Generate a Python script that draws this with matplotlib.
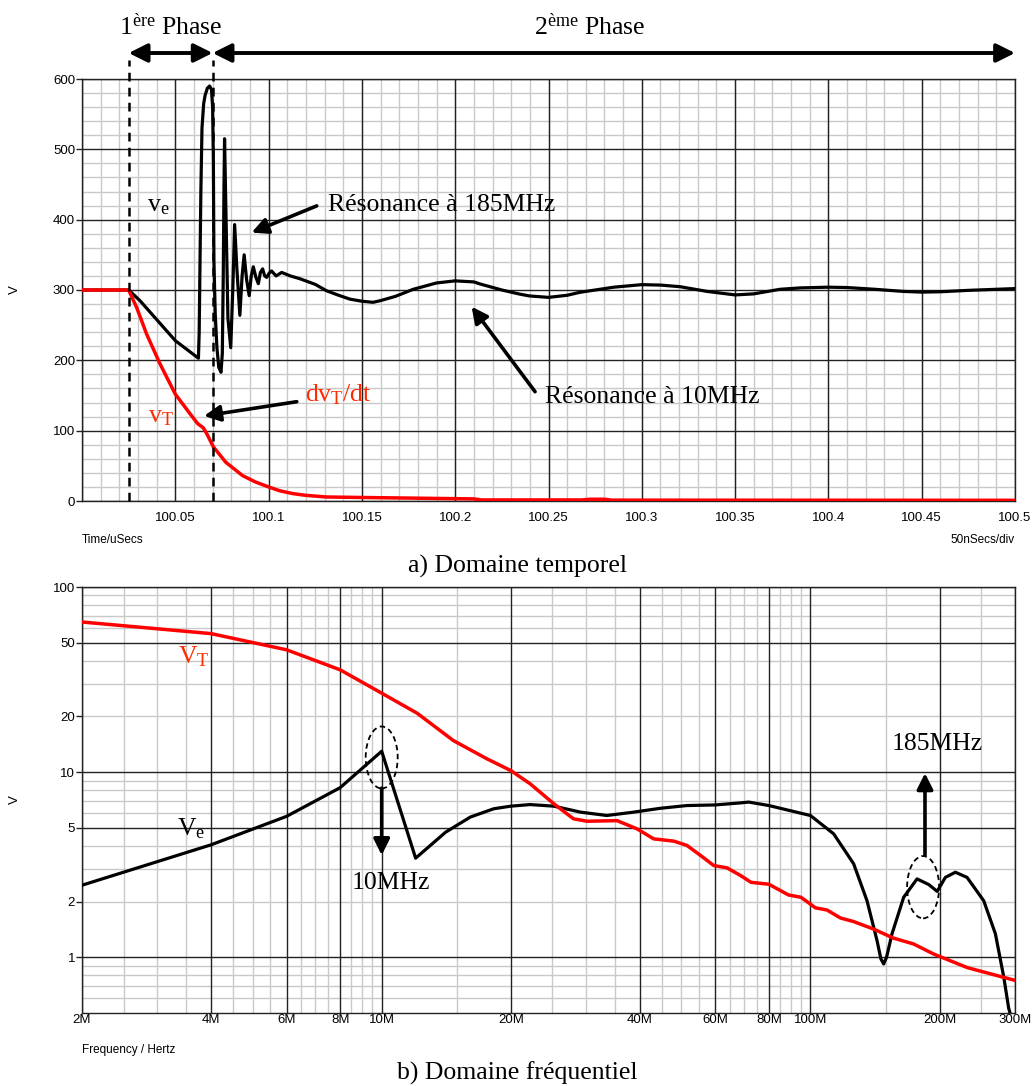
import matplotlib
matplotlib.use('Agg')
import matplotlib.pyplot as plt
import matplotlib.transforms as mtransforms
from matplotlib.patches import Ellipse
from matplotlib.ticker import FixedLocator, NullFormatter
import numpy as np

plt.rcParams['mathtext.fontset'] = 'custom'
plt.rcParams['mathtext.rm'] = 'Liberation Serif'
plt.rcParams['mathtext.it'] = 'Liberation Serif:italic'

SERIF = 'Liberation Serif'
SANS = 'Liberation Sans'
RED_LINE = '#ff0000'
RED_TEXT = '#ff2a00'

# ---- a) time domain (t in uSecs, volts) ----
t_vt = [100.0, 100.025, 100.0293, 100.0346, 100.0418, 100.05, 100.0579, 100.062,
        100.065, 100.067, 100.0704, 100.0771, 100.0861, 100.093, 100.1, 100.106,
        100.113, 100.12, 100.131, 100.15, 100.18, 100.21, 100.214, 100.268,
        100.272, 100.28, 100.284, 100.5]
v_vt = [300, 300, 275, 237.5, 195, 152, 124, 110,
        104, 95, 77, 55, 36, 27, 20, 14.5,
        10.5, 8, 5.7, 5, 4, 3, 1.5, 1.5,
        2.5, 2.5, 1.2, 1]

t_ve = [100.0, 100.025, 100.031, 100.042, 100.05, 100.0624, 100.0628, 100.0632,
        100.0637, 100.0643, 100.0652, 100.066, 100.0672, 100.0684, 100.0694,
        100.07, 100.0704, 100.0707, 100.0714, 100.0723, 100.0733, 100.0745,
        100.0752, 100.0757, 100.0761, 100.0764, 100.077, 100.0782, 100.0797,
        100.0808, 100.0818, 100.083, 100.0846, 100.0858, 100.0869, 100.0882,
        100.0896, 100.0907, 100.0918, 100.0932, 100.0945, 100.0956, 100.0968,
        100.0979, 100.099, 100.1003, 100.1016, 100.104, 100.107, 100.1116,
        100.1168, 100.125, 100.131, 100.137, 100.1436, 100.15, 100.156,
        100.1597, 100.168, 100.1775, 100.19, 100.2, 100.21, 100.2134, 100.225,
        100.2348, 100.24, 100.25, 100.26, 100.2668, 100.285, 100.3, 100.31,
        100.3205, 100.335, 100.35, 100.36, 100.374, 100.385, 100.4, 100.41,
        100.425, 100.44, 100.45, 100.46, 100.475, 100.49, 100.5]
v_ve = [300, 300, 285, 252, 228, 203, 240, 330,
        440, 530, 565, 577, 587, 590, 585,
        560, 483, 341, 266, 218, 190, 183,
        210, 320, 450, 515, 430, 260, 218,
        300, 393, 330, 264, 320, 350, 315,
        292, 320, 333, 318, 309, 325, 330,
        320, 318, 324, 327, 320, 325, 320,
        316, 308, 299, 293, 287, 284, 282.5,
        284.7, 291, 301, 310, 313, 311.5, 308.5, 300,
        294, 291.5, 289.5, 292.5, 296.7, 304, 307.6, 307,
        304.7, 298, 293, 294.5, 301, 303, 304, 303.5,
        301, 298, 297, 297.5, 299.5, 301, 302]

t_ticks = [100.0, 100.05, 100.1, 100.15, 100.2, 100.25, 100.3, 100.35, 100.4, 100.45, 100.5]
t_labels = ['', '100.05', '100.1', '100.15', '100.2', '100.25', '100.3', '100.35', '100.4', '100.45', '100.5']
v_ticks = [0, 100, 200, 300, 400, 500, 600]
phase_bounds = [100.025, 100.07, 100.5]

# ---- b) frequency domain (MHz, volts) ----
f_vt = [2, 4, 6, 8, 10, 12.1, 14.7, 17.6, 20, 22.2, 25.2, 28, 30.1, 35.4, 39.4,
        43.1, 48, 51.5, 55.4, 59.5, 63.9, 68.6, 72.7, 80, 88.9, 95, 102.7,
        109.3, 117.5, 126, 140.4, 156, 174, 194, 232, 300]
a_vt = [64.7, 56, 45.8, 35.7, 26.7, 20.8, 14.8, 11.8, 10.2, 8.65, 6.75, 5.6, 5.43, 5.47, 4.94,
        4.36, 4.24, 4.02, 3.55, 3.13, 3.04, 2.77, 2.54, 2.48, 2.17, 2.11, 1.85,
        1.80, 1.63, 1.56, 1.42, 1.27, 1.18, 1.04, 0.88, 0.75]

f_ve = [2, 4, 6, 8, 10, 12, 14.1, 16.1, 18.25, 20, 22.2, 25.2, 29.1, 33.5, 38.7,
        44.7, 51.5, 60, 68.6, 71.8, 80, 100, 113.3, 126.1, 135.5, 143, 146,
        148.2, 150.5, 155, 165, 177.3, 188.8, 197.5, 206.4, 217.8, 231.9, 253.6,
        270, 282.5, 290, 296]
a_ve = [2.45, 4.05, 5.77, 8.24, 12.97, 3.43, 4.74, 5.72, 6.34, 6.55, 6.68, 6.55, 6.08, 5.83, 6.08,
        6.38, 6.6, 6.65, 6.82, 6.89, 6.6, 5.83, 4.64, 3.2, 2.02, 1.23, 0.98,
        0.92, 1.0, 1.34, 2.11, 2.65, 2.47, 2.27, 2.70, 2.88, 2.70, 2.02,
        1.34, 0.78, 0.53, 0.45]

f_major = [2, 4, 6, 8, 10, 20, 40, 60, 80, 100, 200, 300]
f_labels = ['2M', '4M', '6M', '8M', '10M', '20M', '40M', '60M', '80M', '100M', '200M', '300M']
f_minor = list(np.arange(2.5, 10, 0.5)) + list(range(15, 100, 5)) + [150, 250]
a_major = [1, 2, 5, 10, 20, 50, 100]
a_dark = [1, 5, 10, 50, 100]
a_minor = [0.6, 0.7, 0.8, 0.9, 2, 3, 4, 6, 7, 8, 9, 20, 30, 40, 60, 70, 80, 90]

W, H = 1034, 1086
fig = plt.figure(figsize=(W / 100, H / 100), dpi=100)

def box(x0, y0, x1, y1):
    return [x0 / W, 1 - y1 / H, (x1 - x0) / W, (y1 - y0) / H]

DARK = '#222222'
LIGHT = '#c9c9c9'

# ===================== top chart =====================
ax = fig.add_axes(box(82, 79, 1015, 501))
ax.set_xlim(100.0, 100.5)
ax.set_ylim(0, 600)
for v in np.arange(0, 601, 20):
    if v % 100:
        ax.axhline(v, color=LIGHT, lw=1, zorder=0)
for t in np.arange(100.0, 100.5001, 0.01):
    ax.axvline(t, color=LIGHT, lw=1, zorder=0)
for v in v_ticks:
    ax.axhline(v, color=DARK, lw=1, zorder=0.5)
for t in t_ticks:
    ax.axvline(t, color=DARK, lw=1, zorder=0.5)

ax.plot(t_ve, v_ve, color='black', lw=2.3, zorder=3, solid_joinstyle='round')
ax.plot(t_vt, v_vt, color=RED_LINE, lw=2.5, zorder=4, solid_joinstyle='round')

ax.set_xticks(t_ticks)
ax.set_xticklabels(t_labels, fontfamily=SANS, fontsize=9.5)
ax.set_yticks(v_ticks)
ax.set_yticklabels([str(v) for v in v_ticks], fontfamily=SANS, fontsize=9.5)
ax.tick_params(axis='x', length=0, pad=8)
ax.tick_params(axis='y', length=4, width=1, pad=1, color=DARK)
for s in ax.spines.values():
    s.set_color(DARK)
    s.set_linewidth(1)

blend = mtransforms.blended_transform_factory(ax.transData, ax.transAxes)
for t in phase_bounds[:2]:
    ax.plot([t, t], [0, 1.045], transform=blend, clip_on=False, color='black',
            lw=1.8, ls=(0, (3.5, 2.5)), zorder=5)

arrow_kw = dict(arrowstyle='<|-|>', color='black', lw=2.8, mutation_scale=28,
                shrinkA=0, shrinkB=0)
ax.annotate('', xy=(phase_bounds[0], 1.0616), xytext=(phase_bounds[1], 1.0616),
            xycoords=blend, textcoords=blend, arrowprops=arrow_kw, annotation_clip=False)
ax.annotate('', xy=(phase_bounds[1], 1.0616), xytext=(phase_bounds[2], 1.0616),
            xycoords=blend, textcoords=blend, arrowprops=arrow_kw, annotation_clip=False)

ax.text((phase_bounds[0] + phase_bounds[1]) / 2, 1.125, r'$\mathrm{1^{ère}}$ Phase',
        transform=blend, ha='center', va='center', fontsize=18.5, family=SERIF)
ax.text(100.272, 1.125, r'$\mathrm{2^{ème}}$ Phase',
        transform=blend, ha='center', va='center', fontsize=18.5, family=SERIF)

one_kw = dict(arrowstyle='-|>', color='black', lw=2.6, mutation_scale=24,
              shrinkA=0, shrinkB=0)
ax.annotate('', xy=(100.0909, 381.7), xytext=(100.1258, 419.6), arrowprops=one_kw)
ax.text(100.1318, 421, 'Résonance à 185MHz', fontsize=18.5, family=SERIF,
        va='center', ha='left')
ax.annotate('', xy=(100.2088, 276.3), xytext=(100.2428, 155.4), arrowprops=one_kw)
ax.text(100.2481, 147.9, 'Résonance à 10MHz', fontsize=18.5, family=SERIF,
        va='center', ha='left')
ax.annotate('', xy=(100.0654, 120.9), xytext=(100.1151, 141.2), arrowprops=one_kw)
ax.text(100.1195, 152, r'$\mathrm{dv_T/dt}$', fontsize=18.5, color=RED_TEXT,
        va='center', ha='left')
ax.text(100.0348, 421, r'$\mathrm{v_e}$', fontsize=18.5, color='black',
        va='center', ha='left')
ax.text(100.0354, 121, r'$\mathrm{v_T}$', fontsize=18.5, color=RED_TEXT,
        va='center', ha='left')

fig.text(15 / W, 1 - 290 / H, 'V', rotation=90, ha='center', va='center',
         fontsize=9.5, family=SANS)
fig.text(82 / W, 1 - 540 / H, 'Time/uSecs', ha='left', va='center',
         fontsize=8.5, family=SANS)
fig.text(1015 / W, 1 - 540 / H, '50nSecs/div', ha='right', va='center',
         fontsize=8.5, family=SANS)
fig.text(517 / W, 1 - 566 / H, 'a) Domaine temporel', ha='center', va='center',
         fontsize=18.5, family=SERIF)

# ===================== bottom chart =====================
bx = fig.add_axes(box(82, 587, 1015, 1013))
bx.set_xscale('log')
bx.set_yscale('log')
bx.set_xlim(2, 300)
bx.set_ylim(0.5, 100)
for f in f_minor:
    if f not in f_major:
        bx.axvline(f, color=LIGHT, lw=1, zorder=0)
for a in a_minor:
    bx.axhline(a, color=LIGHT, lw=1, zorder=0)
for f in f_major:
    bx.axvline(f, color=DARK, lw=1, zorder=0.5)
for a in a_dark:
    bx.axhline(a, color=DARK, lw=1, zorder=0.5)

bx.plot(f_ve, a_ve, color='black', lw=2.3, zorder=3, solid_joinstyle='round')
bx.plot(f_vt, a_vt, color=RED_LINE, lw=2.5, zorder=4, solid_joinstyle='round')

bx.xaxis.set_major_locator(FixedLocator(f_major))
bx.xaxis.set_minor_locator(FixedLocator([]))
bx.set_xticklabels(f_labels, fontfamily=SANS, fontsize=9.5)
bx.yaxis.set_major_locator(FixedLocator(a_major))
bx.yaxis.set_minor_locator(FixedLocator([]))
bx.yaxis.set_minor_formatter(NullFormatter())
bx.set_yticklabels([str(a) for a in a_major], fontfamily=SANS, fontsize=9.5)
bx.tick_params(axis='x', length=0, pad=1)
bx.tick_params(axis='y', length=4, width=1, pad=1, color=DARK)
for s in bx.spines.values():
    s.set_color(DARK)
    s.set_linewidth(1)

# dashed rings around the two resonances
bx.add_patch(Ellipse((0.3212, 0.5998), 0.0343, 0.1455, transform=bx.transAxes,
                     fill=False, ls=(0, (3, 2)), lw=1.3, color='black', zorder=5))
bx.add_patch(Ellipse((0.9015, 0.2953), 0.0343, 0.1462, transform=bx.transAxes,
                     fill=False, ls=(0, (3, 2)), lw=1.3, color='black', zorder=5))
bx.annotate('', xy=(10, 10 ** (2 - 268 / 185)), xytext=(10, 10 ** (2 - 201 / 185)),
            arrowprops=one_kw)
bx.text(10.5, 10 ** (2 - 296 / 185), '10MHz', fontsize=18.5, family=SERIF,
        ha='center', va='center')
bx.annotate('', xy=(185, 10 ** (2 - 186 / 185)), xytext=(185, 10 ** (2 - 268 / 185)),
            arrowprops=one_kw)
bx.text(198, 10 ** (2 - 157 / 185), '185MHz', fontsize=18.5, family=SERIF,
        ha='center', va='center')
bx.text(3.35, 42.4, r'$\mathrm{V_T}$', fontsize=18.5, color=RED_TEXT,
        ha='left', va='center')
bx.text(3.33, 4.98, r'$\mathrm{V_e}$', fontsize=18.5, color='black',
        ha='left', va='center')

fig.text(15 / W, 1 - 800 / H, 'V', rotation=90, ha='center', va='center',
         fontsize=9.5, family=SANS)
fig.text(82 / W, 1 - 1050 / H, 'Frequency / Hertz', ha='left', va='center',
         fontsize=8.5, family=SANS)
fig.text(517 / W, 1 - 1073 / H, 'b) Domaine fréquentiel', ha='center', va='center',
         fontsize=18.5, family=SERIF)

fig.savefig('out.png', dpi=100)
